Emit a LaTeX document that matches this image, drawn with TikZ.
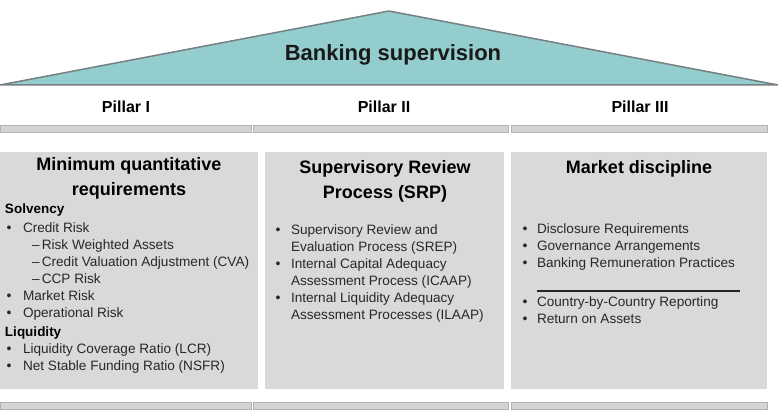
\documentclass[tikz,border=0pt]{standalone}
\usepackage{fontspec}
\setmainfont{Liberation Sans}
\usetikzlibrary{positioning}
\begin{document}
\begin{tikzpicture}[x=1pt,y=-1pt]
\definecolor{roofteal}{RGB}{148,205,205};
\definecolor{roofedge}{RGB}{118,128,130};
\definecolor{boxgray}{RGB}{217,217,217};
\definecolor{bargray}{RGB}{211,211,211};
\definecolor{baredge}{RGB}{178,178,178};
\definecolor{itemgray}{RGB}{40,40,40};
\tikzstyle{every node}=[inner sep=0pt, outer sep=0pt];
\tikzstyle{pillarbox}=[fill=boxgray, draw=none];
\tikzstyle{bar}=[fill=bargray, draw=baredge, line width=0.9pt];
\tikzstyle{heading}=[anchor=base, font=\fontsize{18}{24}\bfseries\selectfont, black];
\tikzstyle{pillar}=[anchor=base, font=\fontsize{16}{20}\bfseries\selectfont, black];
\tikzstyle{item}=[anchor=base west, font=\fontsize{13.6}{17}\selectfont, itemgray];
\tikzstyle{bul}=[anchor=base, font=\fontsize{14}{17}\selectfont, itemgray];
\tikzstyle{group}=[anchor=base west, font=\fontsize{13.5}{17}\bfseries\selectfont, black];
\useasboundingbox (0,0) rectangle (778,414);
% roof
\draw[fill=roofteal, draw=roofedge, line width=1.5pt, line join=round] (0,85) -- (389,11) -- (778,85) -- cycle;
\node[anchor=base, font=\fontsize{22}{26}\bfseries\selectfont, black!90] (roof) at (393,61) {Banking supervision};
% pillar names
\foreach \name/\xx [count=\i] in {Pillar I/126, Pillar II/384, Pillar III/640}
\node[pillar] (pillar\i) at (\xx,113) {\name};
% thin bars above and below the boxes
\foreach \xa/\xb in {0/251, 253/508, 511/767} {
\draw[bar] (\xa,125) rectangle (\xb,132);
\draw[bar] (\xa,402) rectangle (\xb,409);
}
% boxes
\foreach \xa/\xb in {0/258, 265/504, 511/767}
\fill[pillarbox] (\xa,152) rectangle (\xb,389);
% headings
\node[heading] (headA1) at (129,171) {Minimum quantitative};
\node[heading] (headA2) at (129,195) {requirements};
\node[heading] (headB1) at (385,174) {Supervisory Review};
\node[heading] (headB2) at (385,198) {Process (SRP)};
\node[heading] (headC) at (639,174) {Market discipline};
% Pillar I
\node[group] (solv) at (5,213) {Solvency};
\node[group] (liq) at (5,336) {Liquidity};
\foreach \txt/\yy in {Credit Risk/232, Market Risk/300, Operational Risk/317, Liquidity Coverage Ratio (LCR)/353, Net Stable Funding Ratio (NSFR)/370} {
\node[bul] (ba\yy) at (9,\yy) {•};
\node[item] (ia\yy) at (23,\yy) {\txt};
}
\foreach \txt/\yy in {Risk Weighted Assets/249, Credit Valuation Adjustment (CVA)/266, CCP Risk/283}
\node[item] (da\yy) at (32,\yy) {–\,\txt};
% Pillar II
\foreach \txt/\yy in {Supervisory Review and/234, Internal Capital Adequacy/268, Internal Liquidity Adequacy/302}
\node[bul] (bb\yy) at (278,\yy) {•};
\foreach \txt/\yy in {Supervisory Review and/234, Evaluation Process (SREP)/251, Internal Capital Adequacy/268, Assessment Process (ICAAP)/285, Internal Liquidity Adequacy/302, Assessment Processes (ILAAP)/319}
\node[item] (ib\yy) at (291,\yy) {\txt};
% Pillar III
\foreach \txt/\yy in {Disclosure Requirements/233, Governance Arrangements/250, Banking Remuneration Practices/267, Country-by-Country Reporting/306, Return on Assets/323} {
\node[bul] (bc\yy) at (525,\yy) {•};
\node[item] (ic\yy) at (537,\yy) {\txt};
}
\coordinate (sepL) at (537,291);
\coordinate (sepR) at (740,291);
\draw[line width=1.2pt, black!85] (sepL) -- (sepR);
\end{tikzpicture}
\end{document}
